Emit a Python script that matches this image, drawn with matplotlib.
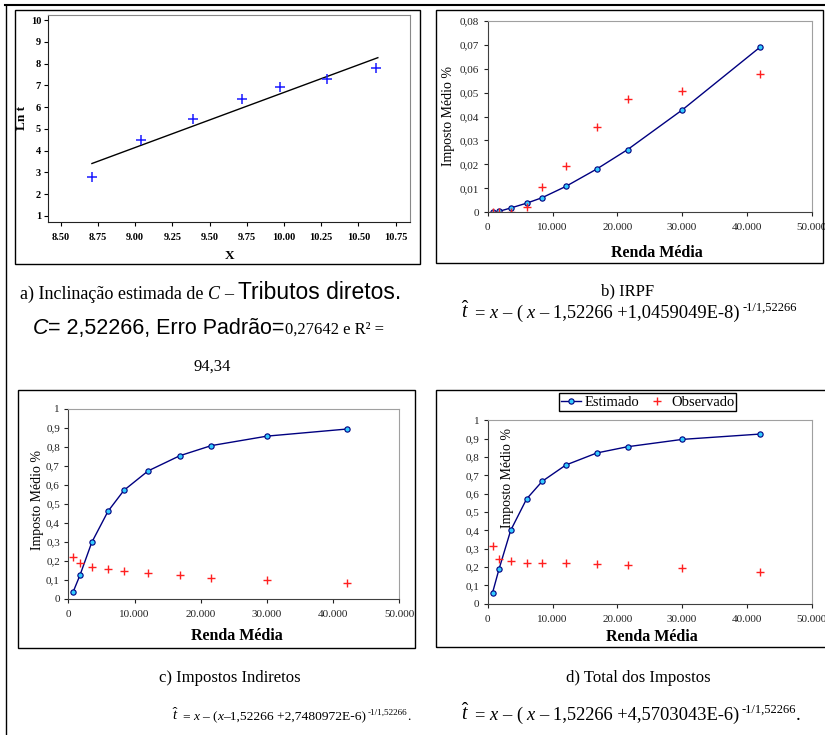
import matplotlib
matplotlib.use('Agg')
import matplotlib.pyplot as plt
from matplotlib.patches import Rectangle
from matplotlib.lines import Line2D

W, H = 825, 735
SERIF = 'Liberation Serif'
SANS = 'Liberation Sans'
plt.rcParams['mathtext.fontset'] = 'custom'
plt.rcParams['mathtext.rm'] = SERIF
plt.rcParams['mathtext.it'] = SERIF + ':italic'
plt.rcParams['font.family'] = [SERIF, 'DejaVu Sans']

# ---------------- data ----------------
# a) ln t versus X (Tributos diretos)
a_x = [8.71, 9.04, 9.39, 9.72, 9.97, 10.29, 10.62]
a_lnt = [2.79, 4.48, 5.45, 6.38, 6.91, 7.30, 7.78]
a_fit_x = [8.71, 10.63]
a_fit_lnt = [3.41, 8.27]
a_xticks = [8.50, 8.75, 9.00, 9.25, 9.50, 9.75, 10.00, 10.25, 10.50, 10.75]
a_yticks = [1, 2, 3, 4, 5, 6, 7, 8, 9, 10]

# renda média (common x for b, c, d)
renda = [750, 1750, 3550, 6000, 8400, 12050, 16850, 21600, 30050, 42050]

# b) IRPF
irpf_est = [0.0000, 0.0004, 0.0018, 0.0038, 0.0061, 0.0108, 0.0181, 0.0262, 0.0428, 0.0690]
irpf_obs = [0.0000, 0.0000, 0.0000, 0.0024, 0.0106, 0.0195, 0.0357, 0.0472, 0.0508, 0.0577]
irpf_yticks = [0, 0.01, 0.02, 0.03, 0.04, 0.05, 0.06, 0.07, 0.08]
irpf_ylabels = ['0', '0,01', '0,02', '0,03', '0,04', '0,05', '0,06', '0,07', '0,08']

# c) Impostos Indiretos
ind_est = [0.039, 0.124, 0.298, 0.461, 0.571, 0.673, 0.753, 0.806, 0.856, 0.893]
ind_obs = [0.219, 0.187, 0.170, 0.156, 0.147, 0.138, 0.124, 0.109, 0.100, 0.086]

# d) Total dos Impostos
tot_est = [0.060, 0.189, 0.400, 0.571, 0.667, 0.756, 0.822, 0.856, 0.896, 0.925]
tot_obs = [0.316, 0.244, 0.231, 0.224, 0.224, 0.222, 0.216, 0.209, 0.196, 0.175]

frac_yticks = [0, 0.1, 0.2, 0.3, 0.4, 0.5, 0.6, 0.7, 0.8, 0.9, 1]
frac_ylabels = ['0', '0,1', '0,2', '0,3', '0,4', '0,5', '0,6', '0,7', '0,8', '0,9', '1']
renda_xticks = [0, 10000, 20000, 30000, 40000, 50000]
renda_xlabels = ['0', '10.000', '20.000', '30.000', '40.000', '50.000']

# ---------------- figure ----------------
fig = plt.figure(figsize=(W / 100, H / 100), dpi=100)
fig.patch.set_facecolor('white')


def rect(x0, y0, x1, y1):
    return [x0 / W, 1 - y1 / H, (x1 - x0) / W, (y1 - y0) / H]


def frame(x0, y0, x1, y1, lw=1.0, color='black'):
    fig.add_artist(Rectangle((x0 / W, 1 - y1 / H), (x1 - x0) / W, (y1 - y0) / H,
                             transform=fig.transFigure, fill=False, lw=lw,
                             edgecolor=color))


def hline(x0, x1, y, lw=1.0):
    fig.add_artist(Line2D([x0 / W, x1 / W], [1 - y / H, 1 - y / H],
                          transform=fig.transFigure, color='black', lw=lw))


def vline(x, y0, y1, lw=1.0):
    fig.add_artist(Line2D([x / W, x / W], [1 - y0 / H, 1 - y1 / H],
                          transform=fig.transFigure, color='black', lw=lw))


# table borders and panel frames
hline(5, 825, 5, lw=1.5)
vline(6, 5, 735, lw=1.0)
frame(15, 10, 420, 264)
frame(436, 10, 823, 263)
frame(18, 390, 415, 648)
frame(436, 390, 830, 647)

# ---------- panel a ----------
axa = fig.add_axes(rect(48, 15, 410, 222))
axa.plot(a_fit_x, a_fit_lnt, color='black', lw=1.0)
axa.plot(a_x, a_lnt, linestyle='none', marker='+', color='#1a1aff', ms=6.5, mew=1.1)
axa.set_xlim(8.415, 10.846)
axa.set_ylim(0.724, 10.23)
axa.set_xticks(a_xticks)
axa.set_xticklabels(['%.2f' % v for v in a_xticks])
axa.set_yticks(a_yticks)
axa.set_yticklabels([str(v) for v in a_yticks])
for s in ['top', 'right']:
    axa.spines[s].set_color('#888888')
for s in ['left', 'bottom']:
    axa.spines[s].set_color('#222222')
axa.tick_params(direction='out', length=3, width=0.8, labelsize=7.5, pad=2,
                colors='black')
axa.tick_params(axis='x', pad=5)
for lab in axa.get_xticklabels() + axa.get_yticklabels():
    lab.set_fontweight('bold')
fig.text(22 / W, 1 - 118 / H, 'Ln t', rotation=90, ha='center', va='center',
         fontsize=9.5, fontweight='bold')
fig.text(230 / W, 1 - 256 / H, 'X', ha='center', va='center', fontsize=9.5,
         fontweight='bold')


# ---------- excel-style panels ----------
def excel_axes(r, yticks, ylabels, ymax):
    ax = fig.add_axes(r)
    ax.set_xlim(0, 50000)
    ax.set_ylim(0, ymax)
    ax.set_xticks(renda_xticks)
    ax.set_xticklabels(renda_xlabels)
    ax.set_yticks(yticks)
    ax.set_yticklabels(ylabels)
    for s in ['top', 'right']:
        ax.spines[s].set_color('#a0a0a0')
    for s in ['left', 'bottom']:
        ax.spines[s].set_color('#404040')
    ax.tick_params(direction='out', length=3, width=0.8, labelsize=8,
                   colors='#222222', pad=3)
    ax.tick_params(axis='x', pad=5)
    return ax


def draw_series(ax, est, obs):
    l1, = ax.plot(renda, est, color='#000080', lw=1.0, marker='o', ms=3.8,
                  mfc='#33ccff', mec='#000080', mew=0.8, label='Estimado')
    l2, = ax.plot(renda, obs, linestyle='none', marker='+', color='#ff2020',
                  ms=6, mew=1.0, label='Observado')
    return l1, l2


axb = excel_axes(rect(487.7, 20.7, 811.7, 212.3), irpf_yticks, irpf_ylabels, 0.08)
draw_series(axb, irpf_est, irpf_obs)
fig.text(449 / W, 1 - 116 / H, 'Imposto Médio %', rotation=90, ha='center',
         va='center', fontsize=10)
fig.text(657 / W, 1 - 253 / H, 'Renda Média', ha='center', va='center',
         fontsize=11.5, fontweight='bold')

axc = excel_axes(rect(68.3, 408.7, 399.3, 599), frac_yticks, frac_ylabels, 1)
draw_series(axc, ind_est, ind_obs)
fig.text(37 / W, 1 - 500 / H, 'Imposto Médio %', rotation=90, ha='center',
         va='center', fontsize=10)
fig.text(237 / W, 1 - 636 / H, 'Renda Média', ha='center', va='center',
         fontsize=11.5, fontweight='bold')

axd = excel_axes(rect(487.7, 420.3, 811.7, 603.7), frac_yticks, frac_ylabels, 1)
h1, h2 = draw_series(axd, tot_est, tot_obs)
fig.text(507 / W, 1 - 428 / H, 'Imposto Médio %', rotation=90, ha='center',
         va='top', fontsize=10)
fig.text(652 / W, 1 - 637 / H, 'Renda Média', ha='center', va='center',
         fontsize=11.5, fontweight='bold')
leg = fig.legend([h1, h2], ['Estimado', 'Observado'], loc='center',
                 bbox_to_anchor=(647.5 / W, 1 - 402 / H), ncol=2, frameon=True,
                 fancybox=False, edgecolor='black', framealpha=1,
                 prop={'family': SERIF, 'size': 10.5}, handlelength=1.4,
                 handletextpad=0.25, columnspacing=0.5, borderpad=0.15,
                 borderaxespad=0)
leg.get_frame().set_linewidth(1.0)


# ---------- rich text helper ----------
def rich(x, y, pieces, ha='left'):
    r = fig.canvas.get_renderer()
    arts = []
    cur = 0.0
    for s, kw, gap, dy in pieces:
        cur += gap
        t = fig.text(0, 0, s, va='baseline', ha='left', **kw)
        w = t.get_window_extent(r).width
        arts.append((t, cur, dy))
        cur += w
    start = x - cur / 2 if ha == 'center' else x
    for t, off, dy in arts:
        t.set_position(((start + off) / W, 1 - (y - dy) / H))


def sp(size, f=0.25):
    return f * size * 100 / 72


FS = 12
ser = dict(family=SERIF, fontsize=FS)
ser13 = dict(family=SERIF, fontsize=13)
seri13 = dict(family=SERIF, fontsize=13, style='italic')
sans = dict(family=SANS, fontsize=15.5)
sans_l1 = dict(family=SANS, fontsize=16.5)
sansi = dict(family=SANS, fontsize=15.5, style='italic')

rich(20, 299, [
    ('a) Inclinação estimada de', ser13, 0, 0),
    ('C', seri13, sp(13), 0),
    ('–', ser13, sp(13), 0),
    ('Tributos diretos.', sans_l1, sp(13), 0),
])
rich(33, 334, [
    ('C', sansi, 0, 0),
    ('= 2,52266, Erro Padrão=', sans, 0, 0),
    ('0,27642 e R² =', ser, 0, 0),
])
rich(212, 371, [('94,34', ser, 0, 0)], ha='center')

rich(628, 295, [('b) IRPF', ser, 0, 0)], ha='center')
rich(638, 682, [('d) Total dos Impostos', ser, 0, 0)], ha='center')
rich(230, 682, [('c) Impostos Indiretos', ser, 0, 0)], ha='center')


def formula(x, y, body, ff, tail=''):
    fser = dict(family=SERIF, fontsize=ff)
    fseri = dict(family=SERIF, fontsize=ff, style='italic')
    hat = dict(family=SERIF, fontsize=ff + 1)
    sup = dict(family=SERIF, fontsize=ff * 0.68)
    pieces = [
        (r'$\hat{t}$', hat, 0, 0),
        ('=', fser, sp(ff), 0),
        ('x', fseri, sp(ff), 0),
        ('–', fser, sp(ff), 0),
    ]
    for s, italic, gap in body:
        pieces.append((s, fseri if italic else fser, sp(ff) if gap else 0, 0))
    pieces.append(('-1/1,52266', sup, sp(ff, 0.1), ff * 0.55))
    if tail:
        pieces.append((tail, fser, 0, 0))
    rich(x, y, pieces)


formula(461, 318, [
    ('(', False, True),
    ('x', True, True),
    ('– 1,52266 +1,0459049E-8)', False, True),
], 13.3)
formula(172, 720, [
    ('(', False, True),
    ('x', True, False),
    ('–1,52266 +2,7480972E-6)', False, False),
], 9.7, tail='.')
formula(461, 720, [
    ('(', False, True),
    ('x', True, True),
    ('– 1,52266 +4,5703043E-6)', False, True),
], 13.3, tail='.')

fig.savefig('out.png', dpi=100, facecolor='white')
